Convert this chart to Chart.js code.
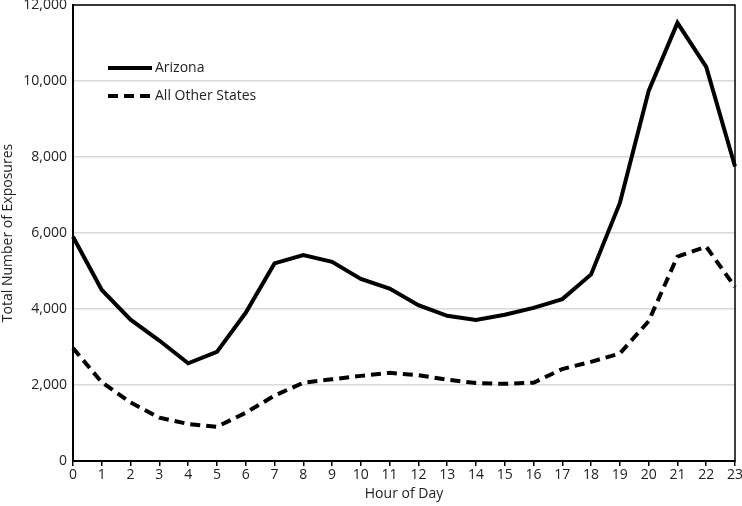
<!DOCTYPE html>
<html>
<head>
    <meta charset="UTF-8">
    <title>Exposures by Hour</title>
    <script src="https://cdn.jsdelivr.net/npm/chart.js@4.4.0/dist/chart.umd.min.js"></script>
</head>
<style>
    html, body { margin: 0; padding: 0; background: #fff; }
</style>
<body>
    <canvas id="chart" width="742" height="506"></canvas>

    <script>
        const hours = ['0','1','2','3','4','5','6','7','8','9','10','11','12','13','14','15','16','17','18','19','20','21','22','23'];
        const arizona = [5900, 4500, 3720, 3170, 2570, 2870, 3900, 5200, 5420, 5240, 4790, 4540, 4100, 3820, 3710, 3850, 4030, 4260, 4910, 6790, 9740, 11530, 10370, 7750];
        const otherStates = [2970, 2070, 1540, 1140, 975, 900, 1270, 1720, 2060, 2150, 2240, 2320, 2260, 2140, 2050, 2030, 2060, 2420, 2610, 2830, 3680, 5380, 5640, 4580];

        const fontFam = 'Open Sans';

        // legend drawn inside the plot, top-left
        const innerLegend = {
            id: 'innerLegend',
            afterDraw(chart) {
                const ctx = chart.ctx;
                const x0 = chart.chartArea.left + 35;
                let y = chart.chartArea.top + 63;
                ctx.save();
                ctx.font = '14px "' + fontFam + '"';
                ctx.textBaseline = 'middle';
                chart.data.datasets.forEach(ds => {
                    ctx.beginPath();
                    ctx.lineWidth = 4;
                    ctx.strokeStyle = '#000';
                    ctx.setLineDash(ds.borderDash || []);
                    ctx.moveTo(x0, y);
                    ctx.lineTo(x0 + 44, y);
                    ctx.stroke();
                    ctx.setLineDash([]);
                    ctx.fillStyle = '#222';
                    ctx.fillText(ds.label, x0 + 47, y);
                    y += 28;
                });
                ctx.restore();
            }
        };

        const frame = {
            id: 'frame',
            afterDatasetsDraw(chart) {
                const a = chart.chartArea;
                const ctx = chart.ctx;
                ctx.save();
                ctx.strokeStyle = '#000';
                ctx.lineWidth = 1.5;
                ctx.strokeRect(a.left, a.top, a.right - a.left, a.bottom - a.top);
                ctx.restore();
            }
        };

        new Chart(document.getElementById('chart'), {
            type: 'line',
            data: {
                labels: hours,
                datasets: [{
                    label: 'Arizona',
                    data: arizona,
                    borderColor: '#000',
                    borderWidth: 4,
                    pointRadius: 0,
                    tension: 0,
                    fill: false
                }, {
                    label: 'All Other States',
                    data: otherStates,
                    borderColor: '#000',
                    borderWidth: 4,
                    borderDash: [10, 6],
                    pointRadius: 0,
                    tension: 0,
                    fill: false
                }]
            },
            options: {
                responsive: false,
                animation: false,
                layout: { padding: { top: 5, right: 7, left: 0, bottom: 0 } },
                plugins: {
                    legend: { display: false },
                    tooltip: { enabled: false }
                },
                scales: {
                    x: {
                        offset: false,
                        grid: { display: true, drawOnChartArea: false, color: '#000', tickLength: 5, lineWidth: 1.5 },
                        border: { color: '#000', width: 2 },
                        ticks: { color: '#222', font: { family: fontFam, size: 14 }, padding: 1, maxRotation: 0, autoSkip: false },
                        title: { display: true, text: 'Hour of Day', color: '#222', font: { family: fontFam, size: 14 }, padding: { top: 1 } },
                        afterFit(scale) { scale.height = 45; scale.paddingRight = 0; scale.paddingLeft = 0; }
                    },
                    y: {
                        min: 0,
                        max: 12000,
                        grid: { color: '#d9d9d9', lineWidth: 1.5, drawTicks: false },
                        border: { color: '#000', width: 2 },
                        ticks: {
                            stepSize: 2000,
                            color: '#222',
                            padding: 6,
                            font: { family: fontFam, size: 14 },
                            callback: v => v.toLocaleString('en-US')
                        },
                        title: { display: true, text: 'Total Number of Exposures', color: '#222', font: { family: fontFam, size: 14 }, padding: 0 },
                        afterFit(scale) { scale.width = 73; scale.paddingTop = 0; scale.paddingBottom = 0; }
                    }
                }
            },
            plugins: [innerLegend, frame]
        });
    </script>
</body>
</html>
